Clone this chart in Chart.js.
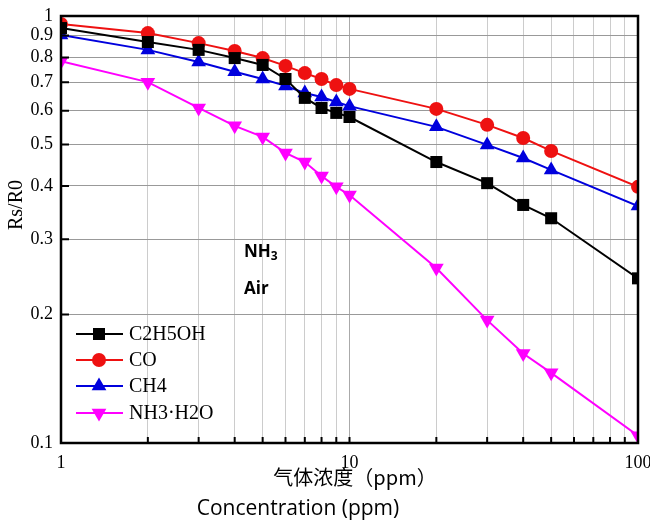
<!DOCTYPE html>
<html>
<head>
<meta charset="utf-8">
<script src="https://cdn.jsdelivr.net/npm/chart.js@4.4.1/dist/chart.umd.min.js"></script>
<style>
  html, body { margin: 0; padding: 0; background: #fff; }
  #wrap { width: 650px; height: 527px; }
</style>
</head>
<body>
<div id="wrap"><canvas id="chart" width="650" height="527"></canvas></div>
<script>
const concentrations = [1, 2, 3, 4, 5, 6, 7, 8, 9, 10, 20, 30, 40, 50, 100]
const c2h5oh = [0.937, 0.869, 0.833, 0.797, 0.768, 0.712, 0.643, 0.609, 0.593, 0.580, 0.455, 0.406, 0.361, 0.336, 0.243]
const co     = [0.958, 0.912, 0.864, 0.828, 0.797, 0.764, 0.735, 0.712, 0.689, 0.675, 0.606, 0.556, 0.518, 0.483, 0.398]
const ch4    = [0.903, 0.833, 0.780, 0.740, 0.712, 0.686, 0.660, 0.646, 0.629, 0.615, 0.550, 0.499, 0.465, 0.436, 0.359]
const nh3h2o = [0.784, 0.700, 0.609, 0.553, 0.521, 0.478, 0.455, 0.422, 0.398, 0.381, 0.257, 0.194, 0.162, 0.146, 0.104]

const xTicks = [1, 2, 3, 4, 5, 6, 7, 8, 9, 10, 20, 30, 40, 50, 60, 70, 80, 90, 100]
const xTickLabels = { 1: '1', 10: '10', 100: '100' }
const yTicks = [0.1, 0.2, 0.3, 0.4, 0.5, 0.6, 0.7, 0.8, 0.9, 1]
const yTickLabels = ['0.1', '0.2', '0.3', '0.4', '0.5', '0.6', '0.7', '0.8', '0.9', '1']

const serif = '"Liberation Serif", "DejaVu Serif", serif'

function series(label, values, color, style, radius, rotation) {
  return {
    label,
    data: concentrations.map((x, i) => ({ x, y: values[i] })),
    borderColor: color,
    backgroundColor: color,
    borderWidth: 2,
    pointStyle: style,
    pointRadius: radius,
    pointRotation: rotation || 0,
    pointBorderWidth: 0,
    pointHoverRadius: radius,
    tension: 0,
    clip: 0
  }
}

const frame = {
  id: 'frame',
  afterDraw(chart) {
    const { ctx, chartArea: a, scales: { x, y } } = chart
    ctx.save()
    // inward ticks
    ctx.strokeStyle = '#000'
    ctx.lineWidth = 2
    ctx.beginPath()
    yTicks.slice(1, -1).forEach(v => {
      const py = y.getPixelForValue(v)
      ctx.moveTo(a.left, py); ctx.lineTo(a.left + 8, py)
    })
    xTicks.slice(1, -1).forEach(v => {
      const px = x.getPixelForValue(v)
      ctx.moveTo(px, a.bottom); ctx.lineTo(px, a.bottom - 6)
    })
    ctx.stroke()
    // box
    ctx.lineWidth = 2.5
    ctx.strokeRect(a.left, a.top, a.right - a.left, a.bottom - a.top)

    // legend
    const rows = [334, 360, 386, 413]
    chart.data.datasets.forEach((ds, i) => {
      const ry = rows[i]
      ctx.strokeStyle = ds.borderColor
      ctx.lineWidth = 2
      ctx.beginPath(); ctx.moveTo(76, ry); ctx.lineTo(123, ry); ctx.stroke()
      ctx.fillStyle = ds.backgroundColor
      Chart.helpers.drawPoint(ctx, {
        pointStyle: ds.pointStyle, radius: ds.pointRadius, rotation: ds.pointRotation, borderWidth: 0
      }, 99, ry)
      ctx.fillStyle = '#000'
      ctx.font = '20px ' + serif
      ctx.textAlign = 'left'
      ctx.textBaseline = 'middle'
      ctx.fillText(ds.label, 129, ry + 1)
    })

    // annotations
    ctx.fillStyle = '#000'
    ctx.textBaseline = 'alphabetic'
    ctx.font = 'bold 17px "Open Sans", "Liberation Sans", sans-serif'
    ctx.fillText('NH', 244, 257)
    const w = ctx.measureText('NH').width
    ctx.font = 'bold 12px "Open Sans", "Liberation Sans", sans-serif'
    ctx.fillText('3', 244 + w, 260)
    ctx.font = 'bold 17px "Open Sans", "Liberation Sans", sans-serif'
    ctx.fillText('Air', 244, 294)

    // axis titles
    ctx.textAlign = 'center'
    ctx.textBaseline = 'middle'
    ctx.font = '20px "Noto Sans CJK SC", sans-serif'
    ctx.fillText('气体浓度（ppm）', 355, 477)
    ctx.font = '21px "Open Sans", "Liberation Sans", sans-serif'
    ctx.fillText('Concentration (ppm)', 298, 509)
    ctx.translate(17, 205)
    ctx.rotate(-Math.PI / 2)
    ctx.font = '20px ' + serif
    ctx.fillText('Rs/R0', 0, 0)
    ctx.restore()
  }
}

new Chart(document.getElementById('chart'), {
  type: 'line',
  data: {
    datasets: [
      series('C2H5OH', c2h5oh, '#000000', 'rect', 8.5),
      series('CO', co, '#ee1111', 'circle', 7),
      series('CH4', ch4, '#0000dd', 'triangle', 8.5),
      series('NH3·H2O', nh3h2o, '#ff00ff', 'triangle', 8.5, 180)
    ]
  },
  options: {
    responsive: false,
    animation: false,
    layout: { padding: { left: 0, right: 12, top: 16, bottom: 0 } },
    plugins: {
      legend: { display: false },
      tooltip: { enabled: false }
    },
    scales: {
      x: {
        type: 'logarithmic',
        min: 1,
        max: 100,
        afterBuildTicks: s => { s.ticks = xTicks.map(v => ({ value: v })) },
        afterFit: s => { s.height = 84; s.paddingLeft = 0; s.paddingRight = 0 },
        border: { display: false },
        grid: {
          drawTicks: false,
          color: c => c.tick && c.tick.value === 10 ? '#aaaaaa' : '#cccccc',
          lineWidth: 1
        },
        ticks: {
          autoSkip: false,
          maxRotation: 0,
          padding: 9,
          color: '#000',
          font: { family: serif, size: 18 },
          callback: v => xTickLabels[v] || ''
        }
      },
      y: {
        type: 'logarithmic',
        min: 0.1,
        max: 1,
        afterBuildTicks: s => { s.ticks = yTicks.map(v => ({ value: v })) },
        afterFit: s => { s.width = 61; s.paddingTop = 0; s.paddingBottom = 0 },
        border: { display: false },
        grid: {
          drawTicks: false,
          color: '#999999',
          lineWidth: 1
        },
        ticks: {
          autoSkip: false,
          padding: 8,
          color: '#000',
          font: { family: serif, size: 18 },
          callback: (v, i) => yTickLabels[i]
        }
      }
    }
  },
  plugins: [frame]
})
</script>
</body>
</html>
